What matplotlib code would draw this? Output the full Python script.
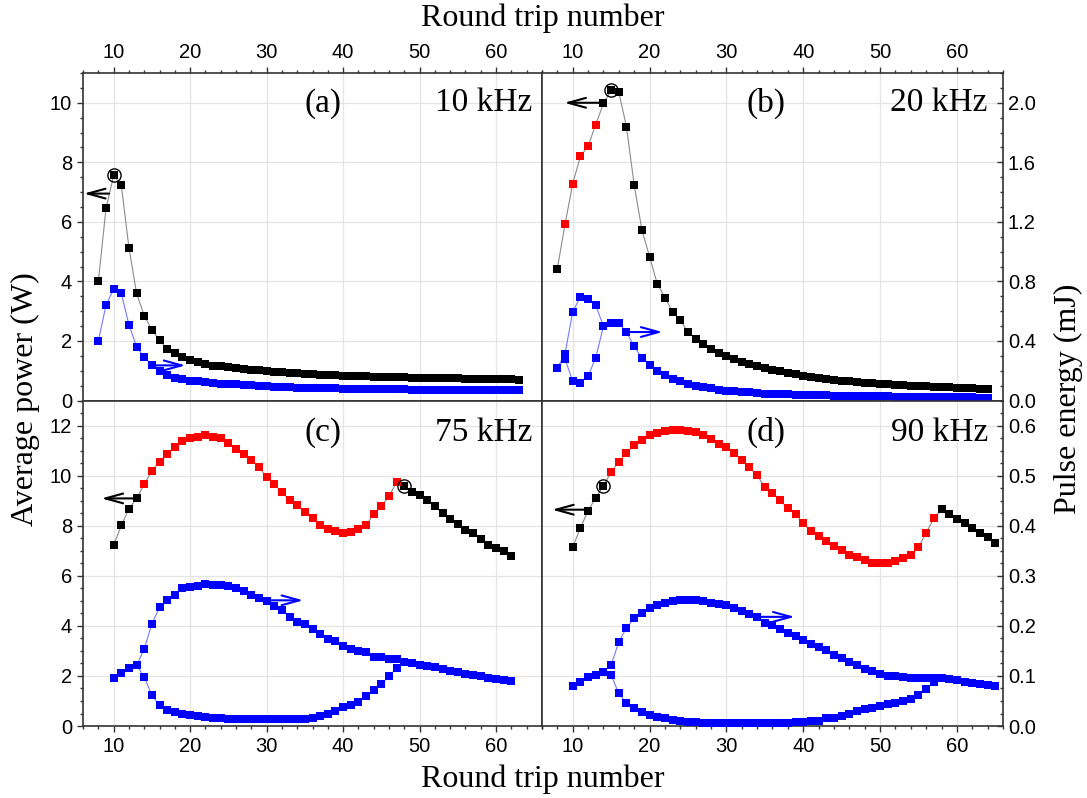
import numpy as np
import matplotlib
matplotlib.use('Agg')
import matplotlib.pyplot as plt

plt.rcParams['font.family'] = ['Liberation Sans', 'DejaVu Sans']

# ---- panel (a) 10 kHz ----
x_a = np.arange(8, 64)
p_a = [4.0, 6.45, 7.56, 7.24, 5.13, 3.6, 2.85, 2.38, 2.02, 1.73,
       1.6, 1.46, 1.35, 1.28, 1.24, 1.17, 1.15, 1.11, 1.09, 1.06,
       1.03, 1.02, 0.98, 0.96, 0.95, 0.93, 0.92, 0.90, 0.88, 0.87,
       0.86, 0.85, 0.84, 0.83, 0.82, 0.81, 0.80, 0.80, 0.79, 0.78,
       0.78, 0.77, 0.76, 0.76, 0.75, 0.75, 0.74, 0.74, 0.73, 0.73,
       0.72, 0.72, 0.72, 0.71, 0.71, 0.70]
e_a = [0.40, 0.64, 0.75, 0.72, 0.51, 0.36, 0.29, 0.24, 0.198, 0.174,
       0.152, 0.142, 0.132, 0.128, 0.124, 0.117, 0.113, 0.110, 0.108, 0.105,
       0.102, 0.098, 0.095, 0.093, 0.091, 0.089, 0.087, 0.086, 0.085, 0.084,
       0.083, 0.082, 0.080, 0.079, 0.078, 0.078, 0.077, 0.076, 0.076, 0.075,
       0.075, 0.074, 0.074, 0.073, 0.073, 0.072, 0.072, 0.072, 0.071, 0.071,
       0.070, 0.070, 0.070, 0.069, 0.069, 0.068]
e_a_low = []
red_a = None
peak_a = 10

# ---- panel (b) 20 kHz ----
x_b = np.arange(8, 65)
p_b = [4.43, 5.92, 7.28, 8.2, 8.54, 9.27, 9.98, 10.42, 10.36, 9.19,
       7.24, 5.74, 4.83, 3.93, 3.46, 2.98, 2.70, 2.29, 2.08, 1.89,
       1.74, 1.61, 1.49, 1.40, 1.31, 1.24, 1.17, 1.10, 1.03, 0.99,
       0.93, 0.88, 0.83, 0.79, 0.75, 0.72, 0.69, 0.66, 0.64, 0.62,
       0.60, 0.58, 0.56, 0.55, 0.53, 0.52, 0.50, 0.49, 0.48, 0.47,
       0.46, 0.45, 0.43, 0.42, 0.41, 0.40, 0.39]
e_b = [0.218, 0.315, 0.596, 0.697, 0.685, 0.640, 0.499, 0.521, 0.521, 0.458,
       0.364, 0.285, 0.240, 0.196, 0.173, 0.146, 0.130, 0.112, 0.099, 0.090,
       0.083, 0.074, 0.067, 0.063, 0.058, 0.054, 0.050, 0.047, 0.045, 0.043,
       0.041, 0.039, 0.037, 0.036, 0.035, 0.034, 0.033, 0.032, 0.031, 0.030,
       0.029, 0.028, 0.027, 0.027, 0.026, 0.025, 0.025, 0.024, 0.024, 0.023,
       0.023, 0.022, 0.022, 0.021, 0.021, 0.020, 0.020]
e_b_low = [0.281, 0.128, 0.117, 0.164, 0.288]
red_b = (9, 13)
peak_b = 15

# ---- panel (c) 75 kHz ----
x_c = np.arange(10, 63)
p_c = [7.22, 8.01, 8.68, 9.09, 9.66, 10.18, 10.56, 10.87, 11.15, 11.39,
       11.51, 11.56, 11.61, 11.55, 11.49, 11.30, 11.08, 10.87, 10.63, 10.33,
       9.95, 9.65, 9.34, 9.01, 8.81, 8.54, 8.29, 8.01, 7.88, 7.79,
       7.72, 7.76, 7.85, 8.01, 8.47, 8.77, 9.18, 9.74, 9.58, 9.34,
       9.22, 9.02, 8.77, 8.50, 8.27, 8.05, 7.81, 7.71, 7.48, 7.23,
       7.12, 6.98, 6.79]
e_c = [0.095, 0.106, 0.115, 0.121, 0.154, 0.204, 0.237, 0.252, 0.261, 0.275,
       0.277, 0.280, 0.283, 0.281, 0.281, 0.280, 0.276, 0.270, 0.262, 0.255,
       0.249, 0.240, 0.231, 0.218, 0.207, 0.203, 0.194, 0.183, 0.174, 0.170,
       0.160, 0.154, 0.150, 0.147, 0.138, 0.138, 0.134, 0.134, 0.127, 0.125,
       0.122, 0.119, 0.117, 0.113, 0.109, 0.107, 0.103, 0.101, 0.099, 0.096,
       0.093, 0.091, 0.090]
e_c_low = [0.098, 0.061, 0.041, 0.032, 0.027, 0.024, 0.023, 0.021, 0.018, 0.016,
           0.016, 0.015, 0.015, 0.015, 0.015, 0.015, 0.015, 0.015, 0.015, 0.015,
           0.015, 0.015, 0.016, 0.020, 0.025, 0.030, 0.037, 0.041, 0.048, 0.059,
           0.072, 0.084, 0.099, 0.116]
red_c = (14, 47)
peak_c = 48

# ---- panel (d) 90 kHz ----
x_d = np.arange(10, 66)
p_d = [7.14, 7.91, 8.60, 9.12, 9.59, 10.14, 10.55, 10.90, 11.22, 11.42,
       11.61, 11.72, 11.77, 11.84, 11.84, 11.77, 11.75, 11.63, 11.48, 11.27,
       11.15, 10.90, 10.63, 10.33, 10.01, 9.55, 9.32, 9.02, 8.69, 8.45,
       8.09, 7.80, 7.57, 7.38, 7.19, 7.02, 6.84, 6.74, 6.62, 6.52,
       6.50, 6.52, 6.60, 6.70, 6.84, 7.14, 7.72, 8.29, 8.65, 8.47,
       8.27, 8.09, 7.91, 7.69, 7.53, 7.30]
e_d = [0.080, 0.088, 0.097, 0.102, 0.107, 0.122, 0.168, 0.196, 0.215, 0.226,
       0.235, 0.242, 0.246, 0.250, 0.251, 0.251, 0.251, 0.249, 0.245, 0.243,
       0.241, 0.236, 0.230, 0.224, 0.217, 0.206, 0.201, 0.193, 0.186, 0.180,
       0.172, 0.164, 0.157, 0.151, 0.142, 0.135, 0.127, 0.121, 0.114, 0.109,
       0.103, 0.100, 0.099, 0.097, 0.095, 0.095, 0.095, 0.095, 0.095, 0.093,
       0.091, 0.088, 0.086, 0.083, 0.081, 0.080]
e_d_low = [0.102, 0.065, 0.045, 0.035, 0.028,
           0.023, 0.018, 0.016, 0.012, 0.010, 0.008, 0.0075, 0.0066, 0.0066, 0.0066,
           0.0066, 0.0066, 0.0066, 0.0066, 0.0066, 0.0066, 0.0066, 0.0066, 0.0066, 0.0073,
           0.008, 0.010, 0.0105, 0.0155, 0.0165, 0.0205, 0.025, 0.029, 0.033, 0.035,
           0.039, 0.043, 0.046, 0.049, 0.053, 0.061, 0.0745, 0.0875]
red_d = (15, 57)
peak_d = 14

labels = ['(a)', '(b)', '(c)', '(d)']
freqs = ['10 kHz', '20 kHz', '75 kHz', '90 kHz']

serif = ['Liberation Serif', 'DejaVu Serif']
fig = plt.figure(figsize=(10.87, 7.98), dpi=100)

L, M, R = 0.0764, 0.4986, 0.9227
B, MID, T = 0.0902, 0.4981, 0.9085
rects = [[L, MID, M - L, T - MID], [M, MID, R - M, T - MID],
         [L, B, M - L, MID - B], [M, B, R - M, MID - B]]

panels = [
    (x_a, p_a, e_a, e_a_low, red_a, peak_a),
    (x_b, p_b, e_b, e_b_low, red_b, peak_b),
    (x_c, p_c, e_c, e_c_low, red_c, peak_c),
    (x_d, p_d, e_d, e_d_low, red_d, peak_d),
]
# arrow tail/tip (x, power) for black, (x, energy) for blue
black_arrows = [((9.4, 6.95), (6.1, 6.95)), ((13.6, 10.0), (8.9, 10.0)),
                ((13.0, 9.09), (8.4, 9.09)), ((12.0, 8.64), (7.3, 8.64))]
blue_arrows = [((14.9, 0.236), (19.4, 0.236)), ((16.9, 0.46), (21.7, 0.46)),
               ((30.1, 0.251), (34.8, 0.251)), ((34.2, 0.218), (38.9, 0.218))]
label_xy = [(0.523, 0.908), (0.485, 0.908), (0.523, 0.902), (0.485, 0.902)]
freq_x = [0.978, 0.967, 0.978, 0.967]
arrow_style = '->,head_length=0.8,head_width=0.22'

for i, (x, p, e, e_low, red, peak) in enumerate(panels):
    top = i < 2
    left = i % 2 == 0
    ax = fig.add_axes(rects[i])
    ax2 = ax.twinx()
    x = np.asarray(x)
    p = np.asarray(p)
    e = np.asarray(e)

    ax.set_xlim(6, 66)
    ax.set_xticks(np.arange(10, 61, 10))
    ax.set_xticks(np.arange(6, 67, 2), minor=True)
    if top:
        ax.set_ylim(0, 11)
        ax.set_yticks(np.arange(0, 11, 2))
        ax.set_yticks(np.arange(0, 11.01, 0.5), minor=True)
        ax2.set_ylim(0, 2.2)
        ax2.set_yticks(np.arange(0, 2.01, 0.4))
        ax2.set_yticks(np.arange(0, 2.21, 0.1), minor=True)
        ax2.set_yticklabels([f'{v:.1f}' for v in np.arange(0, 2.01, 0.4)])
    else:
        ax.set_ylim(0, 13)
        ax.set_yticks(np.arange(0, 13, 2))
        ax.set_yticks(np.arange(0, 13.01, 0.5), minor=True)
        ax2.set_ylim(0, 0.65)
        ax2.set_yticks(np.arange(0, 0.61, 0.1))
        ax2.set_yticks(np.arange(0, 0.651, 0.025), minor=True)
        ax2.set_yticklabels([f'{v:.1f}' for v in np.arange(0, 0.61, 0.1)])

    ax.grid(True, which='major', color='#e4e4e4', lw=0.9)
    ax.set_axisbelow(True)

    ax.tick_params(axis='x', which='both', direction='out', top=top, bottom=not top,
                   labeltop=top, labelbottom=not top, labelsize=14.5, color='#333')
    ax.tick_params(axis='y', which='both', direction='out', left=left, right=False,
                   labelleft=left, labelright=False, labelsize=14.5, color='#333')
    ax2.tick_params(axis='y', which='both', direction='in', right=not left, left=False,
                    labelright=not left, labelleft=False, labelsize=14.5, color='#333')
    for a in (ax, ax2):
        a.tick_params(which='major', length=4.5, width=1.0)
        a.tick_params(which='minor', length=2.5, width=1.0)
    for s in ax.spines.values():
        s.set_color('#333333')
        s.set_linewidth(1.2)
    for s in ax2.spines.values():
        s.set_visible(False)

    # power (left axis)
    ax.plot(x, p, color='#8c8c8c', lw=0.8, zorder=2)
    if red is None:
        is_red = np.zeros(len(x), bool)
    else:
        is_red = (x >= red[0]) & (x <= red[1])
    ax.plot(x[~is_red], p[~is_red], 's', color='black', ms=5.5, mew=0, zorder=3)
    ax.plot(x[is_red], p[is_red], 's', color='#ff0000', ms=5.5, mew=0, zorder=3)
    ax.plot([peak], [p[list(x).index(peak)]], 'o', ms=9.5, mfc='none', mec='black',
            mew=1.0, zorder=4)

    # energy (right axis): upper branch and lower branch of the split
    ax2.plot(x, e, color='#7878ff', lw=0.8, zorder=2)
    ax2.plot(x, e, 's', color='#0000ff', ms=5.5, mew=0, zorder=3)
    if red is not None:
        i0 = list(x).index(red[0])
        i1 = list(x).index(red[1])
        xl = x[i0 - 1:i1 + 2]
        el = np.concatenate([[e[i0 - 1]], e_low, [e[i1 + 1]]])
        ax2.plot(xl, el, color='#7878ff', lw=0.8, zorder=2)
        ax2.plot(x[i0:i1 + 1], e_low, 's', color='#0000ff', ms=5.5, mew=0, zorder=3)

    (bt, bh) = black_arrows[i]
    ax.annotate('', xy=bh, xytext=bt,
                arrowprops=dict(arrowstyle=arrow_style, mutation_scale=16,
                                color='black', lw=1.5, shrinkA=0, shrinkB=0))
    (ut, uh) = blue_arrows[i]
    ax2.annotate('', xy=uh, xytext=ut,
                 arrowprops=dict(arrowstyle=arrow_style, mutation_scale=16,
                                 color='#0000ff', lw=1.5, shrinkA=0, shrinkB=0))

    ax.text(label_xy[i][0], label_xy[i][1], labels[i], transform=ax.transAxes,
            ha='center', va='center', fontsize=24, family=serif)
    ax.text(freq_x[i], label_xy[i][1], freqs[i], transform=ax.transAxes,
            ha='right', va='center', fontsize=24, family=serif)

fig.text(0.4995, 0.977, 'Round trip number', ha='center', va='center',
         fontsize=23, family=serif)
fig.text(0.4995, 0.024, 'Round trip number', ha='center', va='center',
         fontsize=23, family=serif)
fig.text(0.023, 0.5, 'Average power (W)', rotation=90, ha='center', va='center',
         fontsize=23, family=serif)
fig.text(0.9825, 0.5, 'Pulse energy (mJ)', rotation=90, ha='center', va='center',
         fontsize=23, family=serif)

fig.savefig('out.png', dpi=100)
